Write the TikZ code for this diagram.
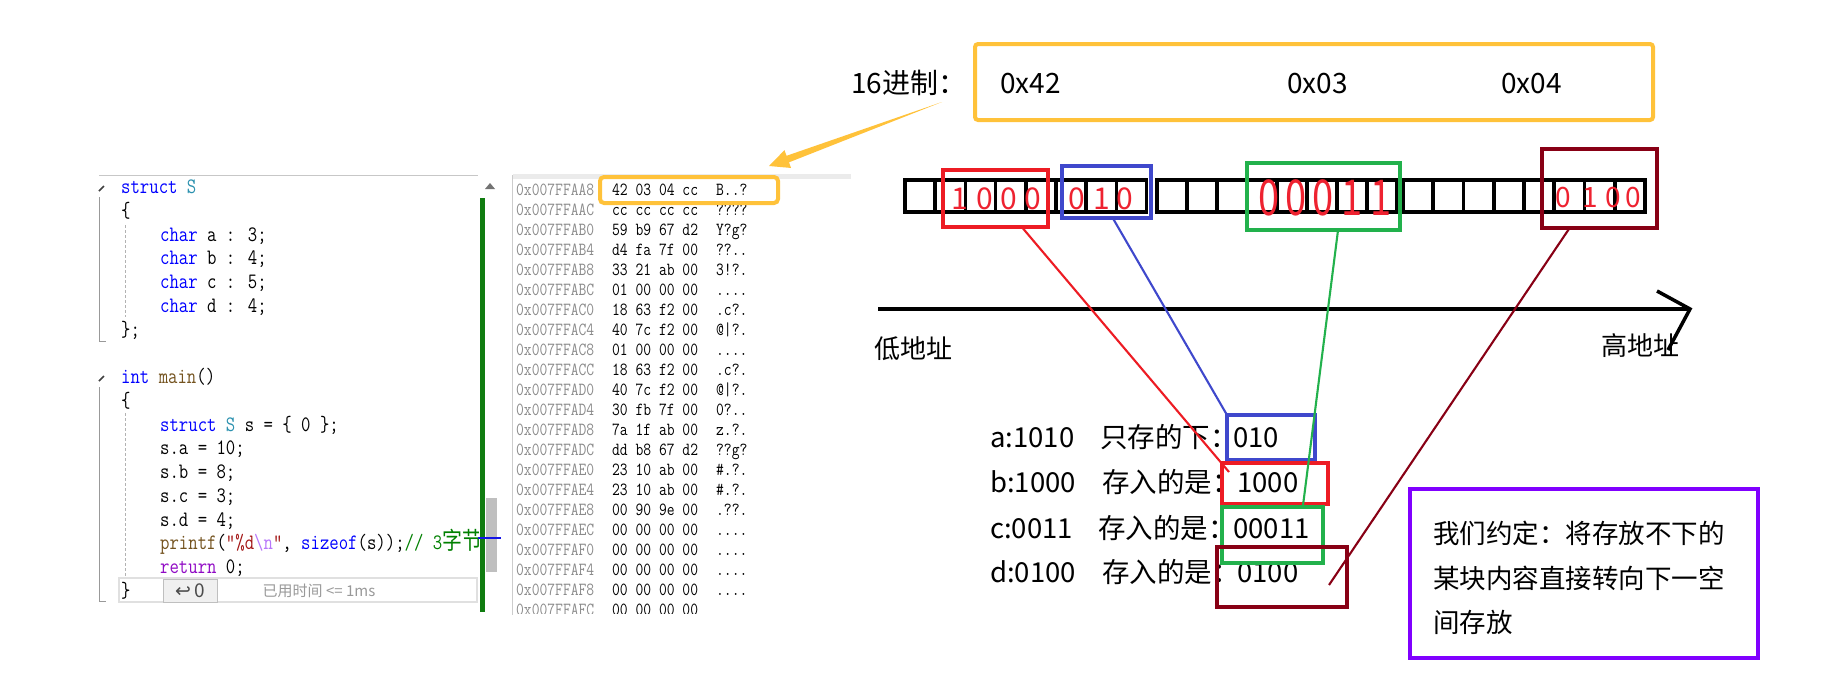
\documentclass[tikz,border=0pt]{standalone}
\usepackage{fontspec}
\newfontfamily\cjk{Noto Sans CJK SC}
\newfontfamily\djv{DejaVu Sans}
\usetikzlibrary{calc}
\definecolor{ckwc}{HTML}{0000FF}
\definecolor{ctyc}{HTML}{2B91AF}
\definecolor{cfnc}{HTML}{74531F}
\definecolor{cstrc}{HTML}{A31515}
\definecolor{cescc}{HTML}{B776FB}
\definecolor{ccmc}{HTML}{008000}
\definecolor{cretc}{HTML}{8F08C4}
\definecolor{addrc}{HTML}{8A8A8A}
\definecolor{orng}{HTML}{FFC23A}
\definecolor{pred}{HTML}{ED1C24}
\definecolor{pblue}{HTML}{3F48CC}
\definecolor{pgreen}{HTML}{22B14C}
\definecolor{pdark}{HTML}{880015}
\definecolor{ppurple}{HTML}{8000FF}
\definecolor{bitred}{HTML}{EE2230}
\definecolor{vsgreen}{HTML}{107C10}
\definecolor{vsblue}{HTML}{1414E6}
\newcommand\ckw[1]{\textcolor{ckwc}{#1}}
\newcommand\cty[1]{\textcolor{ctyc}{#1}}
\newcommand\cfn[1]{\textcolor{cfnc}{#1}}
\newcommand\cstr[1]{\textcolor{cstrc}{#1}}
\newcommand\cesc[1]{\textcolor{cescc}{#1}}
\newcommand\ccm[1]{\textcolor{ccmc}{#1}}
\newcommand\cret[1]{\textcolor{cretc}{#1}}
\newcommand\codeline[3]{\node[code] at (#2,{193.5+23.75*#1}) {#3};}
\newcommand\memrow[4]{%
  \node[mem,text=addrc] at (516,{195+20.03*#1}) {0x007FF#2};
  \node[mem] at (612,{195+20.03*#1}) {#3};
  \node[mem] at (716,{195+20.03*#1}) {#4};}
\begin{document}
\begin{tikzpicture}[x=1pt,y=-1pt,
  code/.style={anchor=base west, inner sep=0pt, font=\fontsize{22}{22}\selectfont\ttfamily, xscale=0.83},
  mem/.style={anchor=base west, inner sep=0pt, font=\fontsize{18.5}{18.5}\selectfont\ttfamily, xscale=0.82},
  lbl/.style={anchor=base west, inner sep=0pt, font=\cjk\fontsize{27.5}{27.5}\selectfont},
  toplbl/.style={anchor=base west, inner sep=0pt, font=\cjk\fontsize{28}{28}\selectfont},
  axlbl/.style={anchor=base west, inner sep=0pt, font=\cjk\fontsize{26}{26}\selectfont},
  ptxt/.style={anchor=base west, inner sep=0pt, font=\cjk\fontsize{26.5}{26.5}\selectfont},
  bitd/.style={anchor=base, inner sep=0pt, text=bitred, font=\cjk\fontsize{30}{30}\selectfont},
  cbox/.style={draw=#1, line width=3.2pt, inner sep=0pt, outer sep=0pt, anchor=north west},
  conn/.style={draw=#1, line width=2.1pt},
  cellbox/.style={draw=black, line width=3.6pt}]
\useasboundingbox (0,0) rectangle (1828,680);
\fill[white] (0,0) rectangle (1828,680);

% ---------- code panel ----------
\draw[black!22, line width=1pt] (99,175) -- (478,175);
\draw[black!40, line width=1pt] (99.5,197) -- (99.5,341.5) -- (106,341.5);
\draw[black!40, line width=1pt] (99.5,387) -- (99.5,601.5) -- (106,601.5);
\draw[black!75, line width=1.6pt] (99,191) -- (104,186);
\draw[black!75, line width=1.6pt] (99,381) -- (104,376);
\draw[black!30, line width=0.9pt, dash pattern=on 3pt off 2pt] (125,225) -- (125,317);
\draw[black!30, line width=0.9pt, dash pattern=on 3pt off 2pt] (125,413) -- (125,577);
% hint line
\draw[black!12, line width=1.5pt] (119,578) rectangle (477,602);
\node[draw=black!25, fill=black!6, line width=1pt, minimum width=54pt, minimum height=23pt, inner sep=0pt] (hintbox) at (190,590.5) {};
\node[text=black!70, font=\fontsize{19}{19}\selectfont] (hintret) at (hintbox.center) {{\djv ↩}\,{\cjk 0}};
\node[text=black!40, font=\cjk\fontsize{15}{15}\selectfont] (hinttime) at (319,591) {已用时间 <= 1ms};
\begin{scope}
\clip (95,170) rectangle (478,615);
\codeline{0}{121}{\ckw{struct} \cty{S}}
\codeline{1}{121}{\{}
\codeline{2}{160}{\ckw{char} a : 3;}
\codeline{3}{160}{\ckw{char} b : 4;}
\codeline{4}{160}{\ckw{char} c : 5;}
\codeline{5}{160}{\ckw{char} d : 4;}
\codeline{6}{121}{\};}
\codeline{8}{121}{\ckw{int} \cfn{main}()}
\codeline{9}{121}{\{}
\codeline{10}{160}{\ckw{struct} \cty{S} s = \{ 0 \};}
\codeline{11}{160}{s.a = 10;}
\codeline{12}{160}{s.b = 8;}
\codeline{13}{160}{s.c = 3;}
\codeline{14}{160}{s.d = 4;}
\codeline{15}{160}{\cfn{printf}(\cstr{"\%d}\cesc{\textbackslash n}\cstr{"}, \ckw{sizeof}(s));\ccm{// 3{\cjk\fontsize{24}{24}\selectfont 字节}}}
\codeline{16}{160}{\cret{return} 0;}
\codeline{17}{121}{\}}
\end{scope}
% scrollbar and margin
\fill[black!55] (485,189) -- (495,189) -- (490,183) -- cycle;
\fill[vsgreen] (480,198) rectangle (485,612);
\fill[black!25] (486,498) rectangle (497,572);
\draw[vsblue, line width=2pt] (478,538) -- (501,538);

% ---------- memory panel ----------
\fill[black!8] (513,174) rectangle (851,179);
\draw[black!20, line width=1pt] (512,175) -- (512,615);
\begin{scope}
\clip (513,179) rectangle (851,613);
\memrow{0}{AA8}{42 03 04 cc}{B..?}
\memrow{1}{AAC}{cc cc cc cc}{????}
\memrow{2}{AB0}{59 b9 67 d2}{Y?g?}
\memrow{3}{AB4}{d4 fa 7f 00}{??..}
\memrow{4}{AB8}{33 21 ab 00}{3!?.}
\memrow{5}{ABC}{01 00 00 00}{....}
\memrow{6}{AC0}{18 63 f2 00}{.c?.}
\memrow{7}{AC4}{40 7c f2 00}{@|?.}
\memrow{8}{AC8}{01 00 00 00}{....}
\memrow{9}{ACC}{18 63 f2 00}{.c?.}
\memrow{10}{AD0}{40 7c f2 00}{@|?.}
\memrow{11}{AD4}{30 fb 7f 00}{0?..}
\memrow{12}{AD8}{7a 1f ab 00}{z.?.}
\memrow{13}{ADC}{dd b8 67 d2}{??g?}
\memrow{14}{AE0}{23 10 ab 00}{\#.?.}
\memrow{15}{AE4}{23 10 ab 00}{\#.?.}
\memrow{16}{AE8}{00 90 9e 00}{.??.}
\memrow{17}{AEC}{00 00 00 00}{....}
\memrow{18}{AF0}{00 00 00 00}{....}
\memrow{19}{AF4}{00 00 00 00}{....}
\memrow{20}{AF8}{00 00 00 00}{....}
\memrow{21}{AFC}{00 00 00 00}{}
\end{scope}
\node[draw=orng, line width=4pt, rounded corners=4pt, inner sep=0pt, outer sep=0pt, anchor=north west, minimum width=178pt, minimum height=26pt] (hl) at (600,177) {};

% ---------- hex box and arrow ----------
\node[draw=orng, line width=4pt, rounded corners=3pt, inner sep=0pt, outer sep=0pt, anchor=north west, minimum width=678pt, minimum height=76pt] (hexbox) at (975,44) {};
\node[toplbl] (hexlbl) at (851,93.6) {16进制：};
\node[toplbl] (h42) at (1000,93.6) {0x42};
\node[toplbl] (h03) at (1287,93.6) {0x03};
\node[toplbl] (h04) at (1501,93.6) {0x04};
\coordinate (arS) at (942,102);
\coordinate (arT) at (769,166);
\coordinate (arB) at ($(arT)!20pt!(arS)$);
\fill[orng] (arS) -- ($(arB)!3.5pt!90:(arT)$) -- ($(arB)!9.5pt!90:(arT)$) -- (arT) -- ($(arB)!9.5pt!-90:(arT)$) -- ($(arB)!3.5pt!-90:(arT)$) -- cycle;

% ---------- bit cells ----------
\foreach \bx/\bw in {905/30.2,1157/30.0,1403/30.25}{
  \foreach \j in {0,...,7}{
    \draw[cellbox] ({\bx+\j*\bw},180) rectangle ++(\bw,32);
  }
}
\foreach \x/\d in {960/1,985/0,1009/0,1033/0,1077/0,1102/1,1125/0}{
  \node[bitd] at (\x,209) {\d};
}
\foreach \x/\d in {1269/0,1296/0,1323/0,1352/1,1381/1}{
  \node[bitd, font=\cjk\fontsize{38}{38}\selectfont, yscale=1.3] at (\x,215.5) {\d};
}
\foreach \x/\d in {1563/0,1590/1,1613/0,1633/0}{
  \node[bitd, font=\cjk\fontsize{28}{28}\selectfont] at (\x,207.2) {\d};
}
\node[cbox=pred, minimum width=105pt, minimum height=57pt] (rT) at (943,170) {};
\node[cbox=pblue, minimum width=89pt, minimum height=52pt] (bT) at (1062,166) {};
\node[cbox=pgreen, minimum width=153pt, minimum height=67pt] (gT) at (1247,163) {};
\node[cbox=pdark, minimum width=115pt, minimum height=79pt] (dT) at (1542,149) {};

% ---------- address axis ----------
\coordinate (axL) at (878,309);
\coordinate (axR) at (1690,309);
\coordinate (ahU) at (1657,291);
\coordinate (ahD) at (1668,350);
\draw[line width=4pt] (axL) -- (axR);
\node[axlbl] (lowlbl) at (874,358.9) {低地址};
\node[axlbl] (highlbl) at (1601,355.9) {高地址};
\draw[line width=3.5pt] (ahU) -- (axR) -- (ahD);

% ---------- explanation lines ----------
\node[lbl] (a1) at (990,447.5) {a:1010};
\node[lbl] (a2) at (1100,447.5) {只存的下：};
\node[lbl] (a3) at (1233,447.5) {010};
\node[lbl] (b1) at (990,492.5) {b:1000};
\node[lbl] (b2) at (1102,492.5) {存入的是：};
\node[lbl] (b3) at (1237,492.5) {1000};
\node[lbl] (c1) at (990,538.5) {c:0011};
\node[lbl] (c2) at (1098,538.5) {存入的是：};
\node[lbl] (c3) at (1233,538.5) {00011};
\node[lbl] (d1) at (990,582.5) {d:0100};
\node[lbl] (d2) at (1102,582.5) {存入的是：};
\node[lbl] (d3) at (1237,582.5) {0100};
\node[cbox=pblue, minimum width=88pt, minimum height=45pt] (bL) at (1227,415) {};
\node[cbox=pred, minimum width=106pt, minimum height=41pt] (rL) at (1222,463) {};
\node[cbox=pgreen, minimum width=101pt, minimum height=56pt] (gL) at (1222,507) {};
\node[cbox=pdark, line width=3.8pt, minimum width=130pt, minimum height=60pt] (dL) at (1217,547) {};

% ---------- connectors ----------
\draw[conn=pred] ($(rT.south west)!0.75!(rT.south east)$) -- ($(rL.north west)+(7,9)$);
\draw[conn=pblue] ($(bT.south west)!0.57!(bT.south east)$) -- (bL.north west);
\draw[conn=pgreen] ($(gT.south west)!0.595!(gT.south east)$) -- ($(gL.north west)!0.8!(gL.north east)$);
\draw[conn=pdark] ($(dT.south west)!0.24!(dT.south east)$) -- ($(dL.north west)+(112,38)$);

% ---------- note box ----------
\node[draw=ppurple, line width=4pt, inner sep=0pt, outer sep=0pt, anchor=north west, minimum width=348pt, minimum height=169pt] (note) at (1410,489) {};
\node[ptxt] (n1) at (1433,543) {我们约定：将存放不下的};
\node[ptxt] (n2) at (1433,588) {某块内容直接转向下一空};
\node[ptxt] (n3) at (1433,632) {间存放};
\end{tikzpicture}
\end{document}
